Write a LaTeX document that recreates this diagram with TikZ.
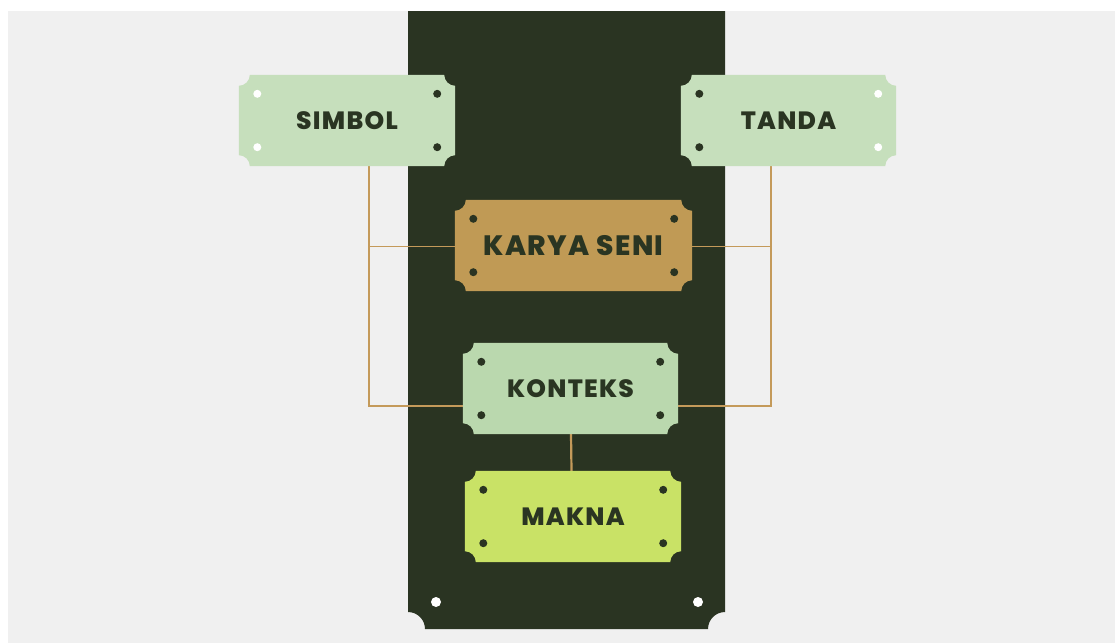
\documentclass[tikz,border=0pt]{standalone}
\usepackage{fontspec}
\setmainfont{Poppins}[LetterSpace=5,BoldFont={Poppins ExtraBold}]
\usetikzlibrary{calc,backgrounds}
\definecolor{bggrey}{HTML}{F0F0F0}
\definecolor{panel}{HTML}{2A3422}
\definecolor{pale}{HTML}{C6DFBC}
\definecolor{konteksc}{HTML}{BAD8AE}
\definecolor{karyac}{HTML}{C09A55}
\definecolor{maknac}{HTML}{C9E266}
\definecolor{txt}{HTML}{2A3522}
\definecolor{linec}{HTML}{C49A5A}
\newcommand\plate[3]{%
  \fill[#2] ($(#1.north west)+(#3,0)$) -- ($(#1.north east)+(-#3,0)$)
    arc[start angle=180,end angle=270,radius=#3]
    -- ($(#1.south east)+(0,#3)$)
    arc[start angle=90,end angle=180,radius=#3]
    -- ($(#1.south west)+(#3,0)$)
    arc[start angle=0,end angle=90,radius=#3]
    -- ($(#1.north west)+(0,-#3)$)
    arc[start angle=-90,end angle=0,radius=#3] -- cycle;}
\newcommand\platedots[5]{% name, colour NW, colour SW, colour NE, colour SE
  \fill[#2] ($(#1.north west)+(18.5,-19)$) circle[radius=4];
  \fill[#3] ($(#1.south west)+(18.5,19)$) circle[radius=4];
  \fill[#4] ($(#1.north east)+(-18,-19)$) circle[radius=4];
  \fill[#5] ($(#1.south east)+(-18,19)$) circle[radius=4];}
\begin{document}
\begin{tikzpicture}[x=1pt,y=1pt,
  plabel/.style={inner sep=0pt,minimum height=91pt,text=txt,font=\bfseries\fontsize{25}{25}\selectfont},
  link/.style={draw=linec,line width=1.5pt},
  thicklink/.style={draw=linec,line width=2.2pt}]
\useasboundingbox (0,0) rectangle (1115,-643);
\node[plabel,minimum width=216pt] (simbol) at (347,-120.5) {SIMBOL};
\node[plabel,minimum width=215pt] (tanda) at (788.5,-120.5) {TANDA};
\node[plabel,minimum width=237pt,font=\bfseries\fontsize{28}{28}\selectfont] (karya) at (573.5,-245.5) {KARYA SENI};
\node[plabel,minimum width=215pt,text depth=-2.5pt] (konteks) at (570.5,-388.5) {KONTEKS};
\node[plabel,minimum width=216pt] (makna) at (573,-516.5) {MAKNA};
\coordinate (lx) at (369,0);
\coordinate (rx) at (771,0);
\coordinate (kl) at ($(konteks.west)+(0,-17.5)$);
\coordinate (kr) at ($(konteks.east)+(0,-17.5)$);
\coordinate (kaw) at ($(karya.west)+(1,-1)$);
\coordinate (kae) at ($(karya.east)+(-1,-1)$);
\begin{scope}[on background layer]
  \fill[white] (0,0) rectangle (1115,-643);
  \fill[bggrey] (8,-11) rectangle (1115,-643);
  \fill[panel] (408,-11) -- (725,-11) -- (725,-612)
     arc[start angle=90,end angle=180,radius=17] -- (425,-629)
     arc[start angle=0,end angle=90,radius=17] -- cycle;
  \fill[white] (436,-602) circle[radius=5];
  \fill[white] (698,-602) circle[radius=5];
  \draw[link] (simbol.south -| lx) |- (kl);
  \draw[link] (kaw) -- (kaw -| lx);
  \draw[link] (tanda.south -| rx) |- (kr);
  \draw[link] (kae) -- (kae -| rx);
  \draw[thicklink] ($(konteks.south)+(0.5,0)$) -- ($(makna.north)+(-1.5,0)$);
  \plate{simbol}{pale}{11}
  \plate{tanda}{pale}{11}
  \plate{karya}{karyac}{11}
  \plate{konteks}{konteksc}{11}
  \plate{makna}{maknac}{11}
  \platedots{simbol}{white}{white}{panel}{panel}
  \platedots{tanda}{panel}{panel}{white}{white}
  \platedots{karya}{panel}{panel}{panel}{panel}
  \platedots{konteks}{panel}{panel}{panel}{panel}
  \platedots{makna}{panel}{panel}{panel}{panel}
\end{scope}
\end{tikzpicture}
\end{document}
